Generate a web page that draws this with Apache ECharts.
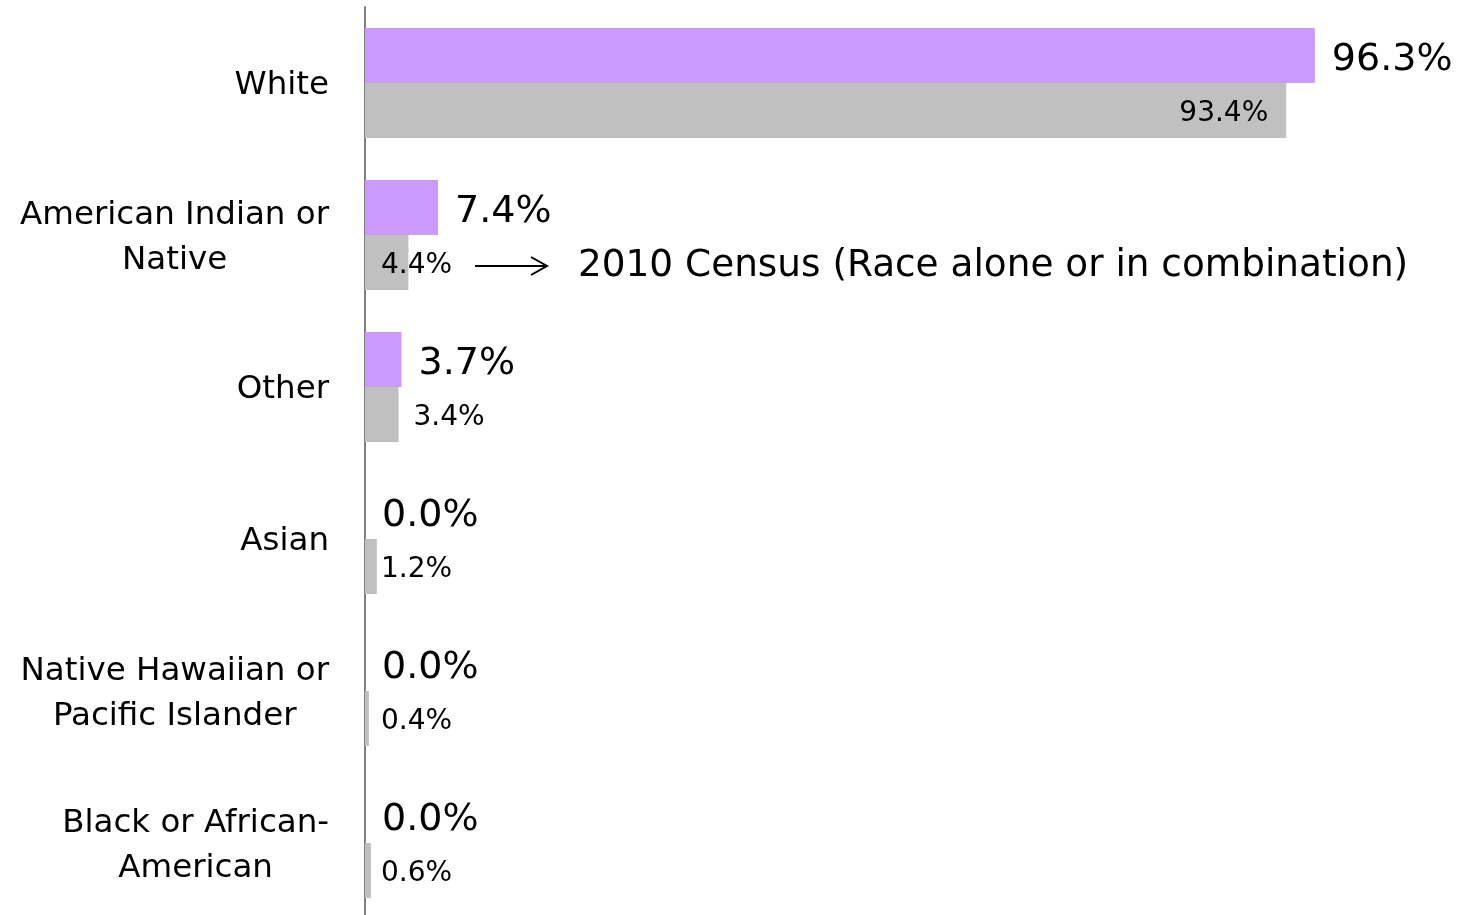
<!DOCTYPE html>
<html>
<head>
<meta charset="utf-8">
<script src="https://cdn.jsdelivr.net/npm/echarts@6/dist/echarts.min.js"></script>
<style>
html,body{margin:0;padding:0;background:#fff;overflow:hidden;}
#main{width:1460px;height:919px;}
</style>
</head>
<body>
<div id="main"></div>
<script>
const categories = ["White", "American Indian or\nNative", "Other", "Asian", "Native Hawaiian or\nPacific Islander", "Black or African-\nAmerican"];
const seriesCurrent = [96.3, 7.4, 3.7, 0.0, 0.0, 0.0];
const series2010 = [93.4, 4.4, 3.4, 1.2, 0.4, 0.6];
const annotationText = "2010 Census (Race alone or in combination)";

const FONT = "DejaVu Sans";
const chart = echarts.init(document.getElementById('main'));

const grayData = series2010.map((v, i) => {
  let label;
  if (v > 50) label = { position: 'insideRight', distance: 18 };
  else if (v >= 3 && v < 4) label = { position: 'right', distance: 15 };
  else label = { position: 'insideLeft', distance: 16 };
  return { value: v, label: label };
});

chart.setOption({
  animation: false,
  backgroundColor: '#ffffff',
  grid: { left: 365, top: 7, right: 10, bottom: 0, containLabel: false },
  xAxis: { type: 'value', min: 0, max: 110, show: false },
  yAxis: {
    type: 'category',
    inverse: true,
    data: categories,
    axisLine: { show: true, lineStyle: { color: '#808080', width: 2 } },
    axisTick: { show: false },
    axisLabel: {
      margin: 36,
      align: 'right',
      color: '#000',
      fontFamily: FONT,
      fontSize: 32.5,
      lineHeight: 45,
      padding: [6, 0, 0, 0],
      formatter: function (v) {
        return v.split('\n').map(l => '{c|' + l + '}').join('\n');
      },
      rich: { c: { align: 'center', fontFamily: FONT, fontSize: 32.5, lineHeight: 45, color: '#000' } }
    },
    splitLine: { show: false }
  },
  series: [
    {
      name: 'Current',
      type: 'bar',
      data: seriesCurrent,
      barGap: '0%',
      barCategoryGap: '27.6%',
      itemStyle: { color: '#CC99FF' },
      label: {
        show: true, position: 'right', distance: 17, offset: [0, 5],
        formatter: p => p.value.toFixed(1) + '%',
        fontFamily: FONT, fontSize: 38, color: '#000'
      }
    },
    {
      name: '2010 Census',
      type: 'bar',
      data: grayData,
      barGap: '0%',
      barCategoryGap: '27.6%',
      itemStyle: { color: '#C0C0C0' },
      label: {
        show: true, offset: [0, 3],
        formatter: p => p.value.toFixed(1) + '%',
        fontFamily: FONT, fontSize: 28, color: '#000'
      }
    }
  ],
  graphic: [
    { type: 'line', shape: { x1: 475, y1: 266, x2: 547, y2: 266 }, style: { stroke: '#000', lineWidth: 2 } },
    { type: 'polyline', shape: { points: [[531, 257], [547, 266], [531, 275]] }, style: { stroke: '#000', lineWidth: 2, fill: null } },
    { type: 'text', x: 578, y: 266, style: { text: annotationText, fontFamily: FONT, fontSize: 37.4, fill: '#000', textVerticalAlign: 'middle', verticalAlign: 'middle' } }
  ]
});
</script>
</body>
</html>
